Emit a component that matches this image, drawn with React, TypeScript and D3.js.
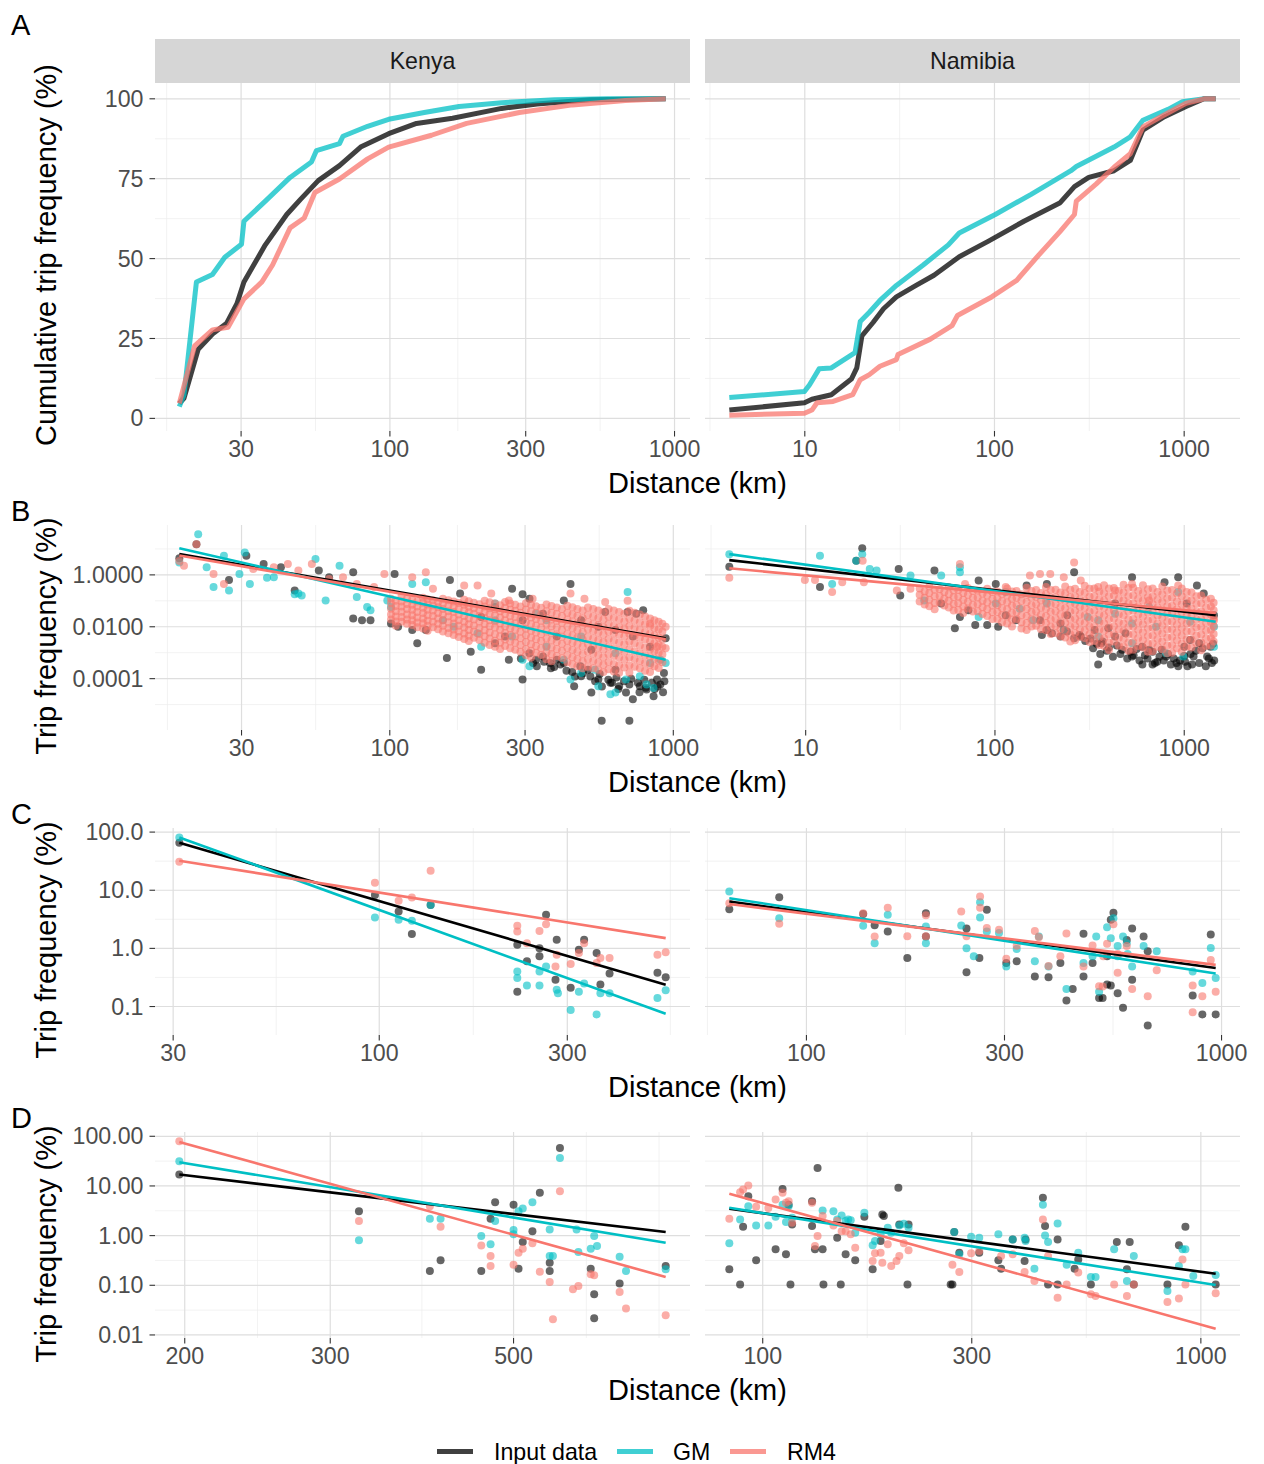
import React from "react";
import * as d3 from "d3";

type Pt = [number, number];
type Col = [number, number[]];

// series: Input data, GM, RM4
const seriesNames = ["Input data", "GM", "RM4"];
const seriesColors = ["#000000", "#00BFC4", "#F8766D"];

// ---------- A: cumulative trip frequency (%) against distance (km)
const cumKenyaInput: Pt[] = [[18.2,4.7],[18.9,6.3],[21.2,21.6],[23.8,26.4],[26.7,29.8],[29,35.9],[30.7,42.7],[36.5,54.3],[43.4,63.8],[48.6,68.6],[56,74.4],[66.5,79.1],[78.9,84.9],[99,89.1],[124,92.3],[166,93.9],[247,97.0],[329,98.4],[505,99.7],[931,100]];
const cumKenyaGM: Pt[] = [[18.2,3.7],[18.9,7.4],[20.9,42.7],[23.8,45.0],[26.3,50.4],[30.1,54.5],[30.7,61.7],[36.5,68.0],[44.6,75.4],[53,80.2],[55.2,83.8],[66.5,86.0],[68.4,88.3],[83.5,91.4],[99,93.6],[132,95.7],[175,97.6],[247,98.8],[379,99.7],[582,100],[931,100]];
const cumKenyaRM4: Pt[] = [[18.2,4.7],[20.6,22.7],[23.8,27.7],[27,28.5],[30.7,37.4],[35.5,42.7],[38.7,48.0],[44.6,59.6],[50,62.7],[54.5,70.7],[66.5,74.9],[83.5,81.2],[99,84.9],[140,88.6],[186,92.3],[285,95.7],[438,98.1],[672,99.5],[931,100]];
const cumNamibiaInput: Pt[] = [[4.0,2.6],[9.96,4.9],[10.9,6.0],[13.8,7.4],[17.6,12.3],[18.8,15.8],[20,25.8],[22.9,30.0],[26,34.3],[30.4,38.0],[38.6,41.6],[48,44.8],[65.2,50.6],[92.5,55.4],[143,61.7],[222,67.5],[264,72.5],[314,75.4],[427,77.5],[520,80.7],[606,90.2],[787,94.4],[1023,97.6],[1273,100],[1466,100]];
const cumNamibiaGM: Pt[] = [[4.0,6.5],[9.96,8.4],[10.6,10.5],[11.9,15.5],[13.8,15.8],[18.4,20.6],[19.6,30.3],[21.9,33.2],[24.9,36.9],[30.4,41.6],[42.1,48.0],[57.1,54.3],[65.2,58.0],[101,63.8],[156,70.1],[253,77.5],[270,78.8],[427,84.9],[520,88.1],[606,93.3],[822,96.7],[979,99.1],[1273,100],[1466,100]];
const cumNamibiaRM4: Pt[] = [[4.0,1.0],[9.96,1.6],[10.9,2.6],[11.6,4.9],[14.1,5.3],[17.9,7.4],[19.6,12.1],[21.9,13.7],[24.9,16.3],[30.4,18.4],[31,20.0],[45.9,24.8],[59.7,29.0],[63.8,32.2],[96.6,38.0],[131,43.2],[171,51.1],[222,58.5],[264,63.8],[270,68.0],[343,73.3],[427,78.6],[520,82.8],[606,91.2],[754,94.4],[1023,98.6],[1273,100],[1466,100]];

// ---------- B: trip frequency (%) of all trips
const allKenyaInput: Pt[] = [[18.1,4.4],[20.8,15.2],[27.1,0.64],[31.2,5.5],[35.9,2.6],[41.3,1.95],[46.2,0.25],[56.2,1.46],[61.1,0.81],[74.3,1.26],[74.3,0.021],[79.8,0.018],[85.5,0.018],[104,1.09],[101,0.0134],[107,0.01],[120,0.0075],[125,0.0023],[134,0.0075],[159,0.00062],[163,0.64],[177,0.19],[193,0.0011],[210,0.00022],[235,0.0023],[255,0.0042],[270,0.29],[294,0.18],[263,0.00054],[294,0.000092],[311,0.00096],[328,0.00054],[347,0.00072],[367,0.0004],[388,0.00054],[411,0.0004],[434,0.45],[447,0.000051],[473,0.000124],[500,0.00022],[514,0.000029],[544,0.000092],[559,0.0000024],[575,0.037],[608,0.000069],[644,0.000051],[681,0.000029],[690,0.037],[700,0.0000024],[720,0.000016],[740,0.032],[762,0.000051],[783,0.043],[805,0.000038],[852,0.000021],[876,0.000092],[927,0.000166],[940,0.0036],[411,0.104],[347,0.032],[294,0.018],[235,0.058],[210,0.024],[311,0.12],[473,0.018],[544,0.01],[625,0.0075],[720,0.0042],[828,0.0017],[514,0.0013],[625,0.00022],[388,0.0042],[290,0.0006],[320,0.0004],[350,0.00045],[380,0.00028],[420,0.0002],[450,0.00012],[480,0.00016],[530,0.00008],[560,0.00005],[600,0.00007],[640,0.00004],[700,0.00006],[760,0.00003],[800,0.000045],[860,0.00004],[900,0.00006],[920,0.00003],[330,0.0003],[370,0.00025],[400,0.00035],[440,0.00018],[470,0.0003],[510,0.00012],[550,0.00015],[590,0.00009],[630,0.00011],[670,0.00008],[710,0.0001],[750,0.00007],[790,0.00009],[840,0.00007],[880,0.00005],[930,0.00008]];
const allKenyaGM: Pt[] = [[21.1,36.6],[18.1,3.0],[23.9,0.34],[27.1,0.25],[26,5.5],[30.8,7.3],[32.1,0.45],[29.5,1.09],[22.6,1.95],[36.9,0.77],[46.2,0.18],[48.9,0.16],[54.7,4.1],[66.5,2.26],[59.4,0.104],[83.2,0.058],[120,0.45],[134,0.52],[98,0.104],[85.5,0.043],[168,0.01],[210,0.0017],[294,0.00054],[328,0.032],[434,0.000092],[529,0.00022],[600,0.000025],[681,0.000092],[805,0.00006],[852,0.000044],[901,0.00054],[940,0.0004],[690,0.22],[235,0.018],[270,0.0042],[357,0.0017],[411,0.00054],[473,0.000166],[544,0.000051],[625,0.000029],[762,0.000124],[311,0.0003],[204,0.0056],[154,0.018],[101,0.058],[76.5,0.14],[39,0.81],[47.6,0.19],[235,0.078],[357,0.018],[473,0.0042],[625,0.00096],[828,0.0004]];
const allKenyaRM4: Pt[] = [[20.8,15.2],[18.8,2.26],[18.1,3.4],[23.9,1.09],[26,0.45],[43.7,2.6],[53.1,2.6],[68.4,0.81],[95.7,1.09],[120,0.81],[134,1.26],[142,0.29],[183,0.39],[204,0.39],[228,0.19],[263,0.104],[319,0.12],[434,0.19],[486,0.12],[575,0.09],[690,0.1],[828,0.0134],[940,0.01],[940,0.0015],[876,0.0017],[33,1.69],[39,1.95],[47.6,1.46],[61.1,0.7],[76.5,0.45],[88,0.34]];
const allKenyaRM4Band: Col[] = [
  [101,[0.12,0.08,0.05,0.03,0.019]],[110,[0.15,0.095,0.06,0.038,0.024,0.0155]],[120,[0.11,0.07,0.045,0.028,0.018,0.0117]],
  [131,[0.13,0.085,0.054,0.034,0.021,0.0136,0.0086]],[142,[0.105,0.066,0.042,0.026,0.0156,0.0096]],[154,[0.12,0.077,0.048,0.03,0.018,0.011,0.0066]],
  [168,[0.095,0.06,0.037,0.022,0.0134,0.0079,0.0048]],[183,[0.11,0.07,0.043,0.026,0.0156,0.0093,0.0055,0.0034]],[198,[0.085,0.052,0.032,0.019,0.0113,0.0066,0.0038]],
  [216,[0.1,0.061,0.037,0.022,0.0128,0.0074,0.0043,0.0024]],[235,[0.078,0.047,0.028,0.016,0.0093,0.0052,0.0029,0.0017]],[255,[0.09,0.054,0.031,0.018,0.0103,0.0057,0.0032,0.0018]],
  [277,[0.07,0.041,0.024,0.0137,0.0077,0.0042,0.0024,0.0013]],[302,[0.08,0.046,0.026,0.015,0.0084,0.0047,0.0026,0.0014,0.0008]],[328,[0.062,0.035,0.02,0.0111,0.006,0.0033,0.0018,0.001]],
  [357,[0.072,0.04,0.022,0.0122,0.0066,0.0035,0.0019,0.00103,0.00056]],[388,[0.055,0.031,0.017,0.0093,0.005,0.0026,0.0014,0.00075]],[423,[0.064,0.035,0.019,0.0103,0.0054,0.0029,0.00154,0.00081,0.00043]],
  [459,[0.048,0.026,0.0138,0.0073,0.0039,0.0021,0.0011,0.00057,0.0003]],[500,[0.055,0.029,0.0152,0.008,0.0041,0.0021,0.0011,0.00056,0.00029]],[544,[0.042,0.022,0.0116,0.006,0.0031,0.0016,0.00081,0.00042,0.00022]],
  [591,[0.048,0.025,0.013,0.0066,0.0034,0.0017,0.00088,0.00044,0.00023]],[644,[0.037,0.019,0.0097,0.0049,0.0025,0.00128,0.00065,0.00033,0.00017]],[700,[0.041,0.021,0.0106,0.0053,0.0027,0.00135,0.00067,0.00033,0.00017]],
  [762,[0.03,0.015,0.0076,0.0038,0.0019,0.00095,0.00048,0.00025]],[828,[0.021,0.0108,0.0054,0.0027,0.00135,0.00068,0.00034,0.00018]],[888,[0.0155,0.0078,0.0039,0.002,0.001,0.0005,0.00026]]
];
const allKenyaRM4Band2: Col[] = [
  [105,[0.1,0.063,0.04,0.025,0.016,0.011]],[115,[0.12,0.076,0.048,0.03,0.019,0.013]],[125,[0.095,0.06,0.037,0.023,0.0145,0.0095]],
  [136,[0.115,0.072,0.045,0.028,0.017,0.011,0.007]],[148,[0.09,0.056,0.034,0.021,0.013,0.008]],[161,[0.105,0.066,0.04,0.025,0.015,0.009,0.0056]],
  [175,[0.082,0.05,0.03,0.018,0.011,0.0066,0.004]],[190,[0.097,0.059,0.036,0.021,0.0125,0.0075,0.0045,0.0028]],[207,[0.074,0.044,0.026,0.0155,0.009,0.0053,0.0031]],
  [225,[0.088,0.052,0.031,0.018,0.0105,0.006,0.0035,0.002]],[245,[0.068,0.04,0.023,0.0134,0.0077,0.0043,0.0024,0.0014]],[266,[0.079,0.046,0.026,0.015,0.0085,0.0048,0.0027,0.0015]],
  [289,[0.061,0.035,0.02,0.0114,0.0064,0.0036,0.002,0.0011]],[315,[0.071,0.04,0.023,0.0128,0.0071,0.0039,0.0021,0.0012,0.00066]],[342,[0.054,0.03,0.017,0.0094,0.0051,0.0028,0.0015,0.00082]],
  [372,[0.063,0.035,0.019,0.0104,0.0056,0.003,0.0016,0.00087,0.00047]],[405,[0.048,0.026,0.0143,0.0077,0.0041,0.0022,0.0012,0.00063]],[441,[0.056,0.03,0.016,0.0087,0.0046,0.0024,0.00128,0.00067,0.00036]],
  [479,[0.042,0.022,0.0118,0.0062,0.0032,0.0017,0.00088,0.00046,0.00025]],[522,[0.048,0.025,0.0132,0.0069,0.0035,0.0018,0.00093,0.00048,0.00025]],[567,[0.036,0.019,0.0098,0.005,0.0026,0.00132,0.00067,0.00034,0.00018]],
  [617,[0.042,0.022,0.011,0.0056,0.0029,0.00146,0.00074,0.00037,0.00019]],[672,[0.032,0.016,0.0083,0.0042,0.0021,0.00107,0.00054,0.00027]],[730,[0.035,0.018,0.009,0.0045,0.0023,0.00115,0.00057,0.00029]],
  [795,[0.025,0.0126,0.0063,0.0032,0.0016,0.0008,0.0004,0.0002]],[858,[0.018,0.009,0.0046,0.0023,0.00116,0.00058,0.0003]],[915,[0.013,0.0066,0.0033,0.0017,0.00085,0.00043]]
];
const allNamibiaInput: Pt[] = [[3.95,2.07],[11.9,0.34],[19.9,10.7],[18.5,3.5],[31,1.69],[31.6,0.16],[47.9,1.46],[52,0.078],[61.4,0.0087],[65.3,0.024],[72.4,0.043],[82,0.61],[78.7,0.0116],[91,0.0116],[101,0.45],[104,0.01],[114,0.028],[129,0.018],[147,0.39],[177,0.0048],[188,0.45],[222,0.0134],[262,1.26],[351,0.00035],[365,0.0023],[431,0.0042],[530,0.81],[530,0.00072],[601,0.00035],[680,0.00035],[787,0.52],[929,0.81],[1031,0.078],[1167,0.39],[1321,0.00072],[1436,0.028],[336,0.0075],[397,0.0087],[489,0.0056],[652,0.0013],[803,0.00072],[910,0.0004],[1074,0.0031],[1268,0.19],[231,0.0075],[284,0.0042],[1377,0.0017],[241,0.028],[173,0.018],[431,0.078],[700,0.0004],[760,0.0013],[1000,0.0017],[1120,0.00072],[600,0.0017],[1200,0.0023],[1400,0.0004],[188,0.0075],[200,0.0056],[222,0.0042],[240,0.0065],[262,0.0036],[280,0.0048],[300,0.0028],[320,0.0035],[345,0.0022],[370,0.0027],[400,0.0016],[440,0.0019],[470,0.0013],[520,0.0011],[560,0.0014],[620,0.0008],[680,0.0011],[740,0.0007],[820,0.0009],[880,0.0006],[950,0.0005],[1000,0.00075],[1080,0.0009],[1150,0.0012],[1250,0.0015],[1350,0.0006],[1420,0.0022],[330,0.0015],[360,0.0009],[390,0.0012],[420,0.0007],[460,0.0009],[500,0.0006],[540,0.0008],[580,0.0005],[640,0.0006],[720,0.00045],[780,0.0005],[850,0.00035],[930,0.0003],[1010,0.00045],[1100,0.00035],[1200,0.0004],[1300,0.0003],[1440,0.0005],[1040,0.0003]];
const allNamibiaGM: Pt[] = [[3.95,6.3],[11.9,5.5],[13.8,0.45],[19.9,6.3],[18.5,3.5],[21.8,1.69],[23.7,1.46],[35.8,0.94],[42.3,0.104],[52,0.94],[65.3,1.95],[65.3,1.26],[82,0.024],[114,0.22],[135,0.05],[159,0.018],[188,0.078],[309,0.024],[351,0.0042],[431,0.032],[530,0.0134],[710,0.01],[929,0.22],[1074,0.0156],[1436,0.01],[1436,0.0017],[351,0.018],[530,0.0023],[803,0.00096],[989,0.00072],[101,0.078],[231,0.0075],[652,0.058]];
const allNamibiaRM4: Pt[] = [[3.95,0.77],[9.9,0.64],[11.2,0.64],[13.8,0.22],[15.6,0.52],[20,3.5],[20.3,0.52],[30.3,0.25],[35.8,0.29],[65.3,2.6],[69.5,0.45],[114,0.34],[153,0.94],[173,1.09],[196,1.09],[231,0.81],[262,3.0],[284,0.61],[351,0.34],[431,0.25],[530,0.45],[652,0.104],[929,0.39],[1436,0.018]];
const allNamibiaRM4Band: Col[] = [
  [40,[0.3,0.17,0.095]],[45,[0.36,0.2,0.11,0.062]],[51,[0.28,0.155,0.086]],[57,[0.33,0.18,0.1,0.055]],[64,[0.26,0.145,0.08,0.044]],
  [72,[0.31,0.17,0.093,0.051]],[81,[0.25,0.135,0.074,0.04]],[91,[0.29,0.16,0.087,0.047,0.026]],[103,[0.23,0.125,0.068,0.037,0.02]],
  [116,[0.3,0.16,0.087,0.047,0.025,0.0135]],[130,[0.24,0.13,0.069,0.037,0.02]],[147,[0.32,0.17,0.09,0.048,0.026,0.014,0.0075]],
  [165,[0.26,0.14,0.074,0.039,0.021,0.011]],[186,[0.34,0.18,0.095,0.05,0.026,0.014,0.0073]],[209,[0.27,0.14,0.075,0.04,0.021,0.011,0.0058]],
  [235,[0.36,0.19,0.1,0.052,0.027,0.014,0.0074,0.0039]],[265,[0.29,0.15,0.078,0.041,0.021,0.011,0.0057,0.003]],[298,[0.38,0.2,0.1,0.053,0.027,0.014,0.0072,0.0037]],
  [335,[0.3,0.155,0.08,0.041,0.021,0.0108,0.0055,0.0028]],[377,[0.4,0.2,0.104,0.053,0.027,0.0138,0.007,0.0036,0.0018]],[425,[0.31,0.16,0.08,0.041,0.021,0.0105,0.0053,0.0027]],
  [478,[0.42,0.21,0.105,0.053,0.027,0.0135,0.0068,0.0034,0.0017]],[538,[0.32,0.16,0.081,0.041,0.02,0.0102,0.0051,0.0026,0.0013]],[605,[0.4,0.2,0.1,0.05,0.025,0.0125,0.0062,0.0031,0.0016]],
  [681,[0.3,0.15,0.075,0.037,0.0185,0.0092,0.0046,0.0023,0.00115]],[766,[0.36,0.18,0.09,0.045,0.022,0.011,0.0055,0.0027,0.00135]],[862,[0.26,0.13,0.065,0.032,0.016,0.008,0.004,0.002,0.001]],
  [970,[0.3,0.15,0.074,0.037,0.018,0.009,0.0045,0.0022,0.0011]],[1092,[0.21,0.105,0.052,0.026,0.013,0.0065,0.0032,0.0016]],[1229,[0.16,0.08,0.04,0.02,0.01,0.005,0.0025,0.00125]],
  [1383,[0.12,0.06,0.03,0.015,0.0075,0.0037,0.0019]]
];
const allNamibiaRM4Band2: Col[] = [
  [42.5,[0.23,0.13,0.072]],[48,[0.27,0.15,0.083,0.047]],[54,[0.22,0.12,0.066]],[60.5,[0.25,0.14,0.076,0.042]],[68,[0.2,0.11,0.061,0.034]],
  [76.5,[0.24,0.13,0.071,0.039]],[86,[0.19,0.1,0.056,0.031]],[97,[0.22,0.12,0.066,0.036,0.02]],[109,[0.18,0.097,0.052,0.028,0.015]],
  [123,[0.23,0.12,0.066,0.035,0.019,0.0102]],[138,[0.18,0.1,0.053,0.028,0.015,0.0085]],[156,[0.24,0.13,0.068,0.036,0.019,0.0103]],
  [175,[0.2,0.105,0.055,0.029,0.015,0.008]],[197,[0.26,0.135,0.071,0.037,0.019,0.01,0.0053]],[222,[0.21,0.11,0.057,0.03,0.0155,0.008,0.0043]],
  [250,[0.27,0.14,0.073,0.038,0.0195,0.0101,0.0052,0.0027]],[281,[0.22,0.113,0.058,0.03,0.0155,0.008,0.0041]],[316,[0.29,0.145,0.075,0.038,0.0195,0.01,0.0051,0.0026]],
  [356,[0.23,0.115,0.059,0.03,0.0152,0.0077,0.0039,0.002]],[400,[0.3,0.15,0.076,0.038,0.0193,0.0098,0.005,0.0025,0.00128]],[451,[0.24,0.12,0.06,0.03,0.015,0.0076,0.0038,0.0019]],
  [507,[0.31,0.155,0.078,0.039,0.0195,0.0098,0.0049,0.0024,0.0012]],[571,[0.24,0.12,0.06,0.03,0.015,0.0075,0.0037,0.0018]],[643,[0.28,0.14,0.07,0.035,0.0175,0.0088,0.0044,0.0022,0.0011]],
  [723,[0.22,0.11,0.055,0.027,0.0135,0.0067,0.0034,0.0017]],[814,[0.25,0.125,0.063,0.031,0.0155,0.0078,0.0039,0.0019,0.00095]],[915,[0.19,0.095,0.047,0.024,0.012,0.006,0.003,0.0015]],
  [1030,[0.22,0.11,0.054,0.027,0.0135,0.0067,0.0033,0.0017]],[1160,[0.15,0.075,0.037,0.0185,0.0093,0.0046,0.0023]],[1305,[0.11,0.055,0.028,0.014,0.007,0.0035,0.0018]],
  [1430,[0.085,0.043,0.021,0.0107,0.0053,0.0027]]
];
const fitAllKenyaInput: Pt[] = [[18.1,6.3],[940,0.0036]];
const fitAllKenyaGM: Pt[] = [[18.1,10.7],[940,0.00054]];
const fitAllKenyaRM4: Pt[] = [[18.1,5.6],[940,0.0033]];
const fitAllNamibiaInput: Pt[] = [[3.95,3.7],[1466,0.028]];
const fitAllNamibiaGM: Pt[] = [[3.95,6.3],[1466,0.0156]];
const fitAllNamibiaRM4: Pt[] = [[3.95,1.79],[1466,0.034]];

// ---------- C
const cKenyaInput: Pt[] = [[31.1,65.6],[97.5,8.3],[112,4.3],[121,1.76],[135,5.6],[224,1.16],[224,0.18],[237,0.6],[255,0.73],[255,1.01],[265,3.8],[282,1.41],[280,0.29],[306,0.21],[321,0.95],[331,1.41],[356,0.83],[364,0.24],[384,0.37],[508,0.38],[533,0.32]];
const cKenyaGM: Pt[] = [[31.1,81],[97.5,3.4],[112,3.1],[121,3.0],[135,5.6],[224,0.4],[224,0.31],[237,0.23],[255,0.4],[255,0.23],[265,0.49],[282,0.195],[284,0.17],[306,0.087],[321,0.18],[331,0.25],[356,0.073],[364,0.17],[384,0.17],[508,0.14],[533,0.19]];
const cKenyaRM4: Pt[] = [[31.1,31],[97.5,13.5],[112,6.6],[121,7.5],[135,21.7],[224,2.44],[224,1.95],[237,1.23],[255,2.0],[265,2.6],[282,0.78],[280,0.49],[306,0.54],[321,0.83],[331,1.23],[356,0.56],[364,0.68],[384,0.68],[508,0.78],[533,0.86]];
const cNamibiaInput: Pt[] = [[65.2,4.7],[86,7.6],[137,3.9],[146,2.5],[157,1.96],[175,0.68],[194,4.0],[194,1.6],[243,2.2],[243,0.39],[261,0.68],[272,4.6],[303,0.56],[321,0.6],[355,0.33],[383,0.32],[409,0.56],[423,0.127],[438,0.2],[465,1.78],[465,0.33],[507,0.14],[517,0.14],[530,0.24],[541,0.23],[549,4.1],[562,0.17],[579,0.095],[591,1.4],[609,2.2],[649,1.6],[664,0.89],[664,0.047],[852,0.154],[899,0.073],[942,1.73],[968,0.073],[489,0.56],[530,0.73],[541,3.1],[609,0.29]];
const cNamibiaGM: Pt[] = [[65.2,9.5],[86,3.3],[137,2.44],[146,1.23],[157,3.8],[194,2.38],[194,1.23],[236,2.48],[243,1.01],[253,0.73],[262,6.2],[262,3.4],[272,1.96],[291,1.83],[303,0.49],[321,0.98],[355,0.6],[363,1.6],[383,0.49],[423,0.2],[465,0.56],[489,0.73],[507,0.18],[530,2.3],[541,1.5],[549,3.3],[562,1.1],[579,1.6],[591,1.23],[609,0.49],[649,1.1],[698,0.89],[852,0.4],[899,0.254],[942,1.02],[968,0.31],[562,0.73],[594,0.8],[499,1.6]];
const cNamibiaRM4: Pt[] = [[65.2,6.0],[86,2.65],[137,4.0],[146,1.6],[157,5.0],[175,1.62],[194,3.7],[194,1.62],[236,4.3],[243,1.62],[262,7.8],[262,5.0],[272,2.25],[291,2.09],[303,0.66],[321,1.11],[355,2.0],[363,1.55],[383,0.5],[409,0.73],[423,1.8],[465,0.49],[489,1.12],[507,0.223],[517,0.22],[530,1.2],[549,2.6],[562,0.38],[591,1.1],[609,0.2],[664,0.15],[698,0.42],[852,0.23],[899,0.15],[942,0.63],[968,0.18],[852,0.08],[519,0.73],[562,0.8]];
const fitCKenyaInput: Pt[] = [[31.1,65.6],[533,0.238]];
const fitCKenyaGM: Pt[] = [[31.1,81],[533,0.075]];
const fitCKenyaRM4: Pt[] = [[31.1,32.2],[533,1.5]];
const fitCNamibiaInput: Pt[] = [[65.2,6.4],[968,0.46]];
const fitCNamibiaGM: Pt[] = [[65.2,7.3],[968,0.37]];
const fitCNamibiaRM4: Pt[] = [[65.2,5.8],[968,0.52]];

// ---------- D
const dKenyaInput: Pt[] = [[197,17],[325,3.1],[396,0.194],[408,0.32],[457,0.194],[469,2.18],[475,4.7],[500,4.2],[507,0.216],[513,0.74],[527,1.23],[538,7.3],[553,0.285],[553,0.194],[569,58],[620,0.216],[626,0.066],[626,0.0217],[672,0.109],[764,0.244]];
const dKenyaGM: Pt[] = [[197,31.5],[325,0.81],[396,2.18],[408,2.18],[457,0.98],[469,0.67],[475,1.96],[500,1.29],[500,1.06],[507,3.1],[513,3.5],[527,4.7],[553,1.33],[553,0.39],[558,0.39],[569,36.7],[596,1.33],[599,0.47],[620,0.545],[626,0.98],[631,0.62],[672,0.376],[684,0.194],[764,0.21]];
const dKenyaRM4: Pt[] = [[197,79],[325,1.96],[396,3.9],[408,1.51],[457,0.635],[469,0.39],[469,0.244],[500,0.26],[507,0.45],[513,0.545],[527,0.7],[538,0.188],[553,0.116],[558,0.0207],[569,7.85],[590,0.083],[599,0.097],[620,0.166],[626,0.16],[672,0.073],[684,0.034],[764,0.025]];
const dNamibiaInput: Pt[] = [[83.9,0.21],[88.8,0.104],[90.2,1.51],[92.7,6.2],[96.6,0.32],[107,0.53],[111,8.7],[113,0.42],[114.6,4.2],[115.7,0.104],[116.7,1.68],[129.6,1.56],[129.6,4.9],[131.6,0.53],[133.4,23.1],[137,0.53],[137.6,0.104],[147.9,0.91],[150.7,0.104],[154.6,0.42],[162.6,0.32],[170.6,2.4],[178.2,0.21],[185.8,0.78],[187.5,2.67],[189,2.47],[204,9.2],[205,1.68],[215.2,1.68],[214,0.104],[268.5,0.104],[271,0.104],[273.6,1.18],[281,0.45],[312,0.45],[345,0.32],[350,0.216],[372,0.84],[396,0.31],[398,0.84],[436,5.8],[441,1.56],[448,0.104],[471,0.84],[471,0.104],[515,0.216],[525,0.33],[561,0.104],[643,0.74],[678,0.21],[688,0.74],[703,0.104],[839,0.104],[891,0.64],[922,1.51],[1081,0.104]];
const dNamibiaGM: Pt[] = [[83.9,0.7],[88.8,2.12],[92.7,3.9],[96.6,1.6],[103,1.6],[107,2.4],[111,4.2],[113,1.87],[114.6,3.9],[116.7,2.28],[137,3.2],[145,3.1],[147.9,2.12],[151.4,2.55],[154.6,1.96],[156.7,2.12],[158.8,2.05],[162.6,1.14],[170.6,2.88],[178.2,0.64],[180.4,0.78],[185.8,1.06],[192.9,1.44],[196.5,1.14],[205,1.6],[209.9,1.73],[215.2,1.44],[273.6,1.18],[281,0.42],[299,0.95],[312,0.91],[345,1.06],[372,0.84],[396,0.91],[398,0.78],[417,0.216],[436,4.2],[441,1.01],[448,0.74],[471,1.76],[494,0.26],[525,0.45],[561,0.147],[575,0.147],[634,0.53],[678,0.122],[703,0.39],[839,0.077],[891,0.244],[908,0.53],[922,0.53],[961,0.154],[1081,0.161]];
const dNamibiaRM4: Pt[] = [[83.9,2.18],[88.8,7.5],[90.2,8.5],[92.7,10.2],[96.6,3.8],[103,3.6],[107,5.35],[111,7.3],[113,4.6],[114.6,4.9],[116.7,1.82],[129.6,4.6],[131.6,0.62],[133.4,0.98],[137,2.47],[145,1.6],[147.9,1.96],[151.4,1.23],[154.6,1.23],[158.8,1.06],[162.6,0.57],[178.2,0.31],[180.4,0.44],[185.8,0.45],[187.5,0.285],[192.9,0.67],[196.5,0.244],[202,0.31],[205,0.39],[209.9,0.7],[215.2,0.51],[271,0.26],[281,0.185],[299,0.44],[312,0.49],[350,0.39],[372,0.42],[396,0.185],[417,0.122],[436,2.12],[448,0.39],[471,0.056],[494,0.104],[525,0.18],[561,0.066],[575,0.061],[634,0.104],[678,0.061],[703,0.104],[839,0.046],[891,0.054],[908,0.33],[922,0.104],[1081,0.069]];
const fitDKenyaInput: Pt[] = [[197,17],[764,1.18]];
const fitDKenyaGM: Pt[] = [[197,30.1],[764,0.72]];
const fitDKenyaRM4: Pt[] = [[197,77],[764,0.147]];
const fitDNamibiaInput: Pt[] = [[83.9,3.47],[1081,0.171]];
const fitDNamibiaGM: Pt[] = [[83.9,3.63],[1081,0.101]];
const fitDNamibiaRM4: Pt[] = [[83.9,6.95],[1081,0.0134]];

// ---------- axis breaks
const xTicksABKenya = [30, 100, 300, 1000];
const xTicksABNamibia = [10, 100, 1000];
const xTicksCKenya = [30, 100, 300];
const xTicksCNamibia = [100, 300, 1000];
const xTicksDKenya = [200, 300, 500];
const xTicksDNamibia = [100, 300, 1000];
const yTicksA = [0, 25, 50, 75, 100];
const yTicksB = [0.0001, 0.01, 1];
const yTicksC = [0.1, 1, 10, 100];
const yTicksD = [0.01, 0.1, 1, 10, 100];

const FONT = "'Liberation Sans', Arial, Helvetica, sans-serif";
const W = 1264;
const H = 1464;
const KX: [number, number] = [155, 690];
const NX: [number, number] = [705, 1240];
const TICK_FS = 23.2;
const TITLE_FS = 29;
const MAJOR = "#DEDEDE";
const MINOR = "#ECECEC";

const expand = (c: Col[]): Pt[] => c.flatMap(([d, vs]) => vs.map((v) => [d, v] as Pt));

type Layer = { kind: "line" | "points" | "fit"; data: Pt[]; s: number };

// ggplot-style minor breaks (midpoints between majors, extended by one step)
function minorBreaks(b0: number[], lim: [number, number]): number[] {
  let b = b0.filter((v) => v >= lim[0] && v <= lim[1]);
  if (b.length < 2) return [];
  const bd = b[1] - b[0];
  if (lim[0] < b[0]) b = [b[0] - bd, ...b];
  if (lim[1] > b[b.length - 1]) b = [...b, b[b.length - 1] + bd];
  const out: number[] = [];
  for (let i = 0; i < b.length - 1; i++) out.push((b[i] + b[i + 1]) / 2);
  out.push(b[b.length - 1]);
  return out.filter((v) => v > lim[0] && v < lim[1]);
}

function padded(vals: number[]): [number, number] {
  const lo = d3.min(vals) as number;
  const hi = d3.max(vals) as number;
  const p = (hi - lo) * 0.05;
  return [lo - p, hi + p];
}

function allPts(layers: Layer[]) {
  return layers.flatMap((l) => l.data);
}

function Panel(props: {
  id: string; xr: [number, number]; top: number; bottom: number;
  xLim: [number, number]; yLim: [number, number]; yLog: boolean;
  xTicks: number[]; yTicks: number[]; yDec: number; left: boolean; layers: Layer[];
}) {
  const { id, xr, top, bottom, xLim, yLim, yLog, xTicks, yTicks, yDec, left, layers } = props;
  const x = d3.scaleLog().domain([10 ** xLim[0], 10 ** xLim[1]]).range(xr);
  const y: any = yLog
    ? d3.scaleLog().domain([10 ** yLim[0], 10 ** yLim[1]]).range([bottom, top])
    : d3.scaleLinear().domain(yLim).range([bottom, top]);
  const yT = (v: number) => (yLog ? Math.log10(v) : v);
  const yI = (v: number) => (yLog ? 10 ** v : v);
  const xMaj = xTicks.filter((t) => Math.log10(t) >= xLim[0] && Math.log10(t) <= xLim[1]);
  const xMin = minorBreaks(xMaj.map(Math.log10), xLim).map((v) => 10 ** v);
  const yMaj = yTicks.filter((t) => yT(t) >= yLim[0] && yT(t) <= yLim[1]);
  const yMin = minorBreaks(yMaj.map(yT), yLim).map(yI);
  const line = d3.line<Pt>().x((d) => x(d[0])).y((d) => y(d[1]));
  return (
    <g>
      <defs>
        <clipPath id={id}>
          <rect x={xr[0]} y={top} width={xr[1] - xr[0]} height={bottom - top} />
        </clipPath>
      </defs>
      {xMin.map((v, i) => (
        <line key={"xm" + i} x1={x(v)} x2={x(v)} y1={top} y2={bottom} stroke={MINOR} strokeWidth={0.7} />
      ))}
      {yMin.map((v, i) => (
        <line key={"ym" + i} x1={xr[0]} x2={xr[1]} y1={y(v)} y2={y(v)} stroke={MINOR} strokeWidth={0.7} />
      ))}
      {xMaj.map((v, i) => (
        <line key={"xM" + i} x1={x(v)} x2={x(v)} y1={top} y2={bottom} stroke={MAJOR} strokeWidth={1.2} />
      ))}
      {yMaj.map((v, i) => (
        <line key={"yM" + i} x1={xr[0]} x2={xr[1]} y1={y(v)} y2={y(v)} stroke={MAJOR} strokeWidth={1.2} />
      ))}
      <g clipPath={`url(#${id})`}>
        {layers.map((L, i) => {
          const c = seriesColors[L.s];
          if (L.kind === "line")
            return (
              <path key={i} d={line(L.data) as string} fill="none" stroke={c} strokeOpacity={0.75}
                strokeWidth={5} strokeLinejoin="round" strokeLinecap="butt" />
            );
          if (L.kind === "fit")
            return <path key={i} d={line(L.data) as string} fill="none" stroke={c} strokeWidth={2.6} />;
          return (
            <g key={i} fill={c} fillOpacity={0.6}>
              {L.data.map((d, j) => (
                <circle key={j} cx={x(d[0])} cy={y(d[1])} r={4} />
              ))}
            </g>
          );
        })}
      </g>
      {xMaj.map((v, i) => (
        <g key={"xt" + i}>
          <line x1={x(v)} x2={x(v)} y1={bottom} y2={bottom + 5.5} stroke="#333333" strokeWidth={1.1} />
          <text x={x(v)} y={bottom + 10} dy="0.71em" textAnchor="middle" fontSize={TICK_FS} fill="#4D4D4D">
            {String(v)}
          </text>
        </g>
      ))}
      {left &&
        yMaj.map((v, i) => (
          <g key={"yt" + i}>
            <line x1={xr[0] - 5.5} x2={xr[0]} y1={y(v)} y2={y(v)} stroke="#333333" strokeWidth={1.1} />
            <text x={xr[0] - 11.5} y={y(v)} dy="0.35em" textAnchor="end" fontSize={TICK_FS} fill="#4D4D4D">
              {v.toFixed(yDec)}
            </text>
          </g>
        ))}
    </g>
  );
}

const pts = (data: Pt[], s: number): Layer => ({ kind: "points", data, s });
const fit = (data: Pt[], s: number): Layer => ({ kind: "fit", data, s });
const ln = (data: Pt[], s: number): Layer => ({ kind: "line", data, s });

export default function App() {
  const rows = [
    {
      tag: "A", top: 83, bottom: 431, yLog: false, yTicks: yTicksA, yDec: 0, titleY: 255, strip: true,
      yTitle: "Cumulative trip frequency (%)",
      k: { xTicks: xTicksABKenya, layers: [ln(cumKenyaInput, 0), ln(cumKenyaGM, 1), ln(cumKenyaRM4, 2)] },
      n: { xTicks: xTicksABNamibia, layers: [ln(cumNamibiaInput, 0), ln(cumNamibiaGM, 1), ln(cumNamibiaRM4, 2)] },
    },
    {
      tag: "B", top: 525, bottom: 730, yLog: true, yTicks: yTicksB, yDec: 4, titleY: 636, strip: false,
      yTitle: "Trip frequency (%)",
      k: {
        xTicks: xTicksABKenya,
        layers: [pts(allKenyaInput, 0), pts(allKenyaGM, 1), pts(allKenyaRM4, 2),
          pts(expand(allKenyaRM4Band), 2), pts(expand(allKenyaRM4Band2), 2),
          fit(fitAllKenyaInput, 0), fit(fitAllKenyaGM, 1), fit(fitAllKenyaRM4, 2)],
      },
      n: {
        xTicks: xTicksABNamibia,
        layers: [pts(allNamibiaInput, 0), pts(allNamibiaGM, 1), pts(allNamibiaRM4, 2),
          pts(expand(allNamibiaRM4Band), 2), pts(expand(allNamibiaRM4Band2), 2),
          fit(fitAllNamibiaInput, 0), fit(fitAllNamibiaGM, 1), fit(fitAllNamibiaRM4, 2)],
      },
    },
    {
      tag: "C", top: 828, bottom: 1035, yLog: true, yTicks: yTicksC, yDec: 1, titleY: 940, strip: false,
      yTitle: "Trip frequency (%)",
      k: { xTicks: xTicksCKenya, layers: [pts(cKenyaInput, 0), pts(cKenyaGM, 1), pts(cKenyaRM4, 2),
        fit(fitCKenyaInput, 0), fit(fitCKenyaGM, 1), fit(fitCKenyaRM4, 2)] },
      n: { xTicks: xTicksCNamibia, layers: [pts(cNamibiaInput, 0), pts(cNamibiaGM, 1), pts(cNamibiaRM4, 2),
        fit(fitCNamibiaInput, 0), fit(fitCNamibiaGM, 1), fit(fitCNamibiaRM4, 2)] },
    },
    {
      tag: "D", top: 1132, bottom: 1338, yLog: true, yTicks: yTicksD, yDec: 2, titleY: 1244, strip: false,
      yTitle: "Trip frequency (%)",
      k: { xTicks: xTicksDKenya, layers: [pts(dKenyaInput, 0), pts(dKenyaGM, 1), pts(dKenyaRM4, 2),
        fit(fitDKenyaInput, 0), fit(fitDKenyaGM, 1), fit(fitDKenyaRM4, 2)] },
      n: { xTicks: xTicksDNamibia, layers: [pts(dNamibiaInput, 0), pts(dNamibiaGM, 1), pts(dNamibiaRM4, 2),
        fit(fitDNamibiaInput, 0), fit(fitDNamibiaGM, 1), fit(fitDNamibiaRM4, 2)] },
    },
  ];

  const legendKeys = [437, 617, 730];
  const legendText = [494, 673, 787];

  return (
    <svg width={W} height={H} fontFamily={FONT}
      style={{ position: "absolute", left: 0, top: 0, display: "block", background: "#fff" }}>
      <rect width={W} height={H} fill="#ffffff" />
      {rows.map((r) => {
        const kp = allPts(r.k.layers);
        const np = allPts(r.n.layers);
        const xLimK = padded(kp.map((d) => Math.log10(d[0])));
        const xLimN = padded(np.map((d) => Math.log10(d[0])));
        const yVals = [...kp, ...np].map((d) => (r.yLog ? Math.log10(d[1]) : d[1]));
        const yLim = padded(yVals);
        const tagY = r.strip ? 35 : r.top - 4;
        return (
          <g key={r.tag}>
            <text x={11} y={tagY} fontSize={29} fill="#000">{r.tag}</text>
            {r.strip &&
              ([["Kenya", KX], ["Namibia", NX]] as [string, [number, number]][]).map(([name, xr]) => (
                <g key={name}>
                  <rect x={xr[0]} y={39} width={xr[1] - xr[0]} height={44} fill="#D6D6D6" />
                  <text x={(xr[0] + xr[1]) / 2} y={61} dy="0.35em" textAnchor="middle" fontSize={TICK_FS} fill="#1A1A1A">
                    {name}
                  </text>
                </g>
              ))}
            <Panel id={"clipK" + r.tag} xr={KX} top={r.top} bottom={r.bottom} xLim={xLimK} yLim={yLim}
              yLog={r.yLog} xTicks={r.k.xTicks} yTicks={r.yTicks} yDec={r.yDec} left={true} layers={r.k.layers} />
            <Panel id={"clipN" + r.tag} xr={NX} top={r.top} bottom={r.bottom} xLim={xLimN} yLim={yLim}
              yLog={r.yLog} xTicks={r.n.xTicks} yTicks={r.yTicks} yDec={r.yDec} left={false} layers={r.n.layers} />
            <text x={(KX[0] + NX[1]) / 2} y={r.bottom + 62} textAnchor="middle" fontSize={TITLE_FS} fill="#000">
              Distance (km)
            </text>
            <text transform={`translate(56, ${r.titleY}) rotate(-90)`} textAnchor="middle" fontSize={TITLE_FS} fill="#000">
              {r.yTitle}
            </text>
          </g>
        );
      })}
      {seriesNames.map((name, i) => (
        <g key={name}>
          <line x1={legendKeys[i]} x2={legendKeys[i] + 36} y1={1451.5} y2={1451.5}
            stroke={seriesColors[i]} strokeOpacity={0.75} strokeWidth={5} />
          <text x={legendText[i]} y={1460} fontSize={TICK_FS} fill="#000">{name}</text>
        </g>
      ))}
    </svg>
  );
}
